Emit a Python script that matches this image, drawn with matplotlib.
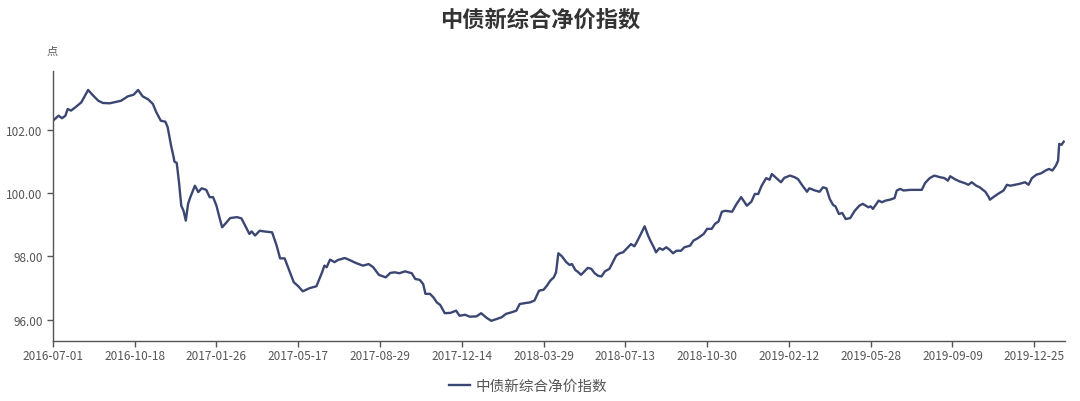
import matplotlib
matplotlib.use('Agg')
import matplotlib.pyplot as plt
from matplotlib.ticker import FormatStrFormatter

plt.rcParams['font.family'] = ['Noto Sans CJK SC', 'DejaVu Sans']

title = '中债新综合净价指数'
unit = '点'
tick_dates = ['2016-07-01', '2016-10-18', '2017-01-26', '2017-05-17', '2017-08-29',
              '2017-12-14', '2018-03-29', '2018-07-13', '2018-10-30', '2019-02-12',
              '2019-05-28', '2019-09-09', '2019-12-25']
tick_step = 72          # trading days between date labels
n_days = 892            # trading days on the axis

# trading-day index and index value
day = [0, 5, 8, 11, 13, 16, 21, 25, 31, 35, 40, 44, 50, 56, 60, 66, 71, 75, 79, 84,
       88, 91, 95, 99, 101, 104, 106, 107, 109, 111, 113, 115, 117, 119, 121, 125, 128, 131, 135, 138,
       141, 144, 147, 149, 153, 156, 162, 166, 173, 175, 178, 182, 188, 193, 197, 200, 204, 212, 216, 220,
       226, 232, 237, 239, 241, 244, 248, 251, 257, 261, 267, 273, 278, 282, 287, 293, 297, 301, 305, 310,
       316, 319, 323, 326, 328, 332, 335, 338, 341, 345, 350, 355, 358, 363, 367, 373, 377, 382, 386, 391,
       395, 399, 404, 408, 411, 416, 420, 424, 428, 432, 435, 438, 441, 443, 445, 448, 452, 455, 457, 460,
       462, 465, 468, 471, 474, 477, 480, 483, 486, 490, 493, 496, 499, 502, 505, 509, 512, 514, 517, 521,
       524, 526, 529, 531, 534, 537, 540, 543, 546, 549, 553, 556, 561, 564, 568, 573, 576, 580, 583, 586,
       589, 592, 598, 602, 606, 611, 615, 618, 621, 624, 628, 631, 633, 637, 641, 644, 649, 653, 656, 660,
       664, 666, 671, 675, 678, 681, 684, 687, 689, 692, 695, 698, 702, 706, 710, 713, 718, 720, 722, 727,
       730, 733, 737, 741, 743, 746, 749, 755, 760, 765, 768, 772, 776, 781, 785, 788, 790, 794, 798, 803,
       806, 809, 813, 816, 821, 824, 825, 828, 832, 837, 840, 843, 847, 851, 856, 859, 862, 866, 870, 874,
       877, 880, 883, 885, 886, 888, 890]
value = [102.28, 102.44, 102.36, 102.44, 102.65, 102.60, 102.74, 102.86, 103.25, 103.09,
         102.91, 102.84, 102.83, 102.88, 102.91, 103.05, 103.10, 103.25, 103.05, 102.95,
         102.81, 102.55, 102.28, 102.25, 102.08, 101.50, 101.18, 100.99, 100.95, 100.34,
         99.60, 99.44, 99.13, 99.66, 99.87, 100.23, 100.03, 100.15, 100.10, 99.87,
         99.87, 99.60, 99.18, 98.92, 99.08, 99.21, 99.24, 99.20, 98.71, 98.79,
         98.66, 98.81, 98.78, 98.76, 98.34, 97.94, 97.94, 97.19, 97.06, 96.90,
         97.00, 97.06, 97.50, 97.71, 97.66, 97.90, 97.82, 97.89, 97.95, 97.89,
         97.79, 97.71, 97.76, 97.66, 97.42, 97.34, 97.48, 97.50, 97.47, 97.53,
         97.47, 97.29, 97.26, 97.13, 96.82, 96.82, 96.71, 96.55, 96.47, 96.21,
         96.22, 96.29, 96.13, 96.16, 96.10, 96.11, 96.21, 96.06, 95.97, 96.03,
         96.08, 96.19, 96.24, 96.29, 96.50, 96.53, 96.55, 96.61, 96.92, 96.95,
         97.08, 97.24, 97.34, 97.50, 98.10, 98.01, 97.82, 97.73, 97.76, 97.57,
         97.52, 97.42, 97.53, 97.64, 97.61, 97.47, 97.39, 97.37, 97.53, 97.61,
         97.82, 98.03, 98.10, 98.13, 98.24, 98.39, 98.32, 98.45, 98.66, 98.95,
         98.66, 98.50, 98.29, 98.13, 98.26, 98.21, 98.29, 98.21, 98.10, 98.18,
         98.18, 98.29, 98.34, 98.50, 98.58, 98.71, 98.87, 98.87, 99.03, 99.10,
         99.41, 99.44, 99.41, 99.66, 99.87, 99.60, 99.73, 99.97, 99.97, 100.23,
         100.47, 100.42, 100.60, 100.47, 100.34, 100.48, 100.55, 100.50, 100.44, 100.23,
         100.04, 100.15, 100.08, 100.04, 100.18, 100.15, 99.81, 99.62, 99.58, 99.34,
         99.37, 99.18, 99.21, 99.44, 99.60, 99.66, 99.55, 99.58, 99.50, 99.76,
         99.71, 99.76, 99.79, 99.84, 100.08, 100.13, 100.08, 100.10, 100.10, 100.10,
         100.32, 100.47, 100.55, 100.50, 100.47, 100.39, 100.53, 100.44, 100.37, 100.31,
         100.26, 100.34, 100.23, 100.18, 100.04, 99.87, 99.79, 99.87, 99.97, 100.08,
         100.26, 100.23, 100.26, 100.29, 100.34, 100.26, 100.47, 100.58, 100.62, 100.71,
         100.76, 100.71, 100.86, 101.02, 101.55, 101.52, 101.62]

line_color = '#3b4673'
axis_color = '#555555'
text_color = '#555555'

fig = plt.figure(figsize=(10.8, 4.02), dpi=100)
ax = fig.add_axes([0.049, 0.149, 0.937, 0.672])

ax.plot(day, value, color=line_color, linewidth=1.7, label=title)

ax.set_xlim(0, n_days - 1)
ax.set_ylim(95.33, 103.85)
ax.set_xticks([i * tick_step for i in range(len(tick_dates))])
ax.set_xticklabels(tick_dates)
ax.set_yticks([96, 98, 100, 102])
ax.yaxis.set_major_formatter(FormatStrFormatter('%.2f'))

for s in ['top', 'right']:
    ax.spines[s].set_visible(False)
for s in ['left', 'bottom']:
    ax.spines[s].set_color(axis_color)
    ax.spines[s].set_linewidth(1)
ax.tick_params(axis='both', colors=axis_color, labelcolor=text_color,
               labelsize=8.5, length=4, width=1)
ax.tick_params(axis='x', pad=2)

fig.text(0.5, 0.95, title, ha='center', va='center', fontsize=16,
         fontweight='bold', color='#333333')
fig.text(0.048, 0.872, unit, ha='center', va='center', fontsize=8, color=text_color)

fig.legend(loc='center', bbox_to_anchor=(0.489, 0.037), frameon=False,
           fontsize=10.5, handlelength=1.4, handletextpad=0.4, labelcolor=text_color)

fig.savefig('out.png', dpi=100)
